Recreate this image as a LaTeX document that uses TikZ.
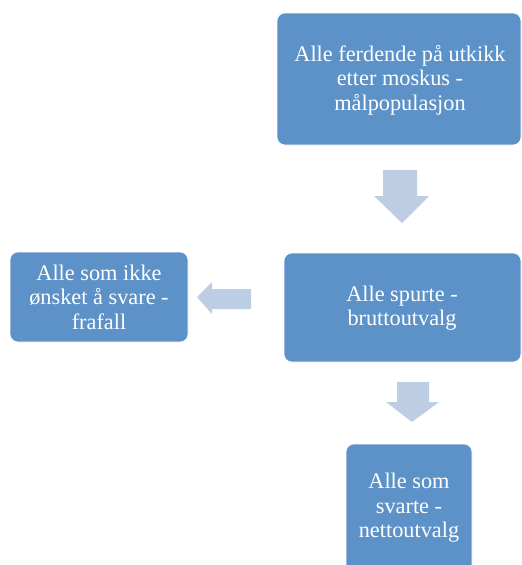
\documentclass[tikz,border=0pt]{standalone}
\usepackage{fontspec}
\setmainfont{Liberation Serif}
\definecolor{boxblue}{RGB}{92,146,200}
\definecolor{arrowblue}{RGB}{188,205,228}
\begin{document}
\begin{tikzpicture}[x=1pt,y=-1pt,
  box/.style={fill=boxblue,draw=white,line width=0.6pt,rounded corners=8pt},
  boxtext/.style={text=white,align=center,font=\fontsize{22.3}{24.5}\selectfont},
  blockarrow/.style={fill=arrowblue}]
\useasboundingbox (0,0) rectangle (522,565);
\begin{scope}
\clip (0,0) rectangle (522,565);
% boxes
\draw[box] (277,13) rectangle (521,145);
\node[boxtext] (b1) at (400,80) {Alle ferdende på utkikk\\etter moskus -\\målpopulasjon};
\draw[box] (284,253) rectangle (521,362);
\node[boxtext] (b2) at (402,308) {Alle spurte -\\bruttoutvalg};
\draw[box] (10,252) rectangle (188,342);
\node[boxtext] (b3) at (99,297) {Alle som ikke\\ønsket å svare -\\frafall};
\draw[box] (346,444) rectangle (472,572);
\node[boxtext] (b4) at (409,508) {Alle som\\svarte -\\nettoutvalg};
% block arrows
\fill[blockarrow] (383,170) -- (417,170) -- (417,196) -- (429,196) -- (402,223) -- (374,196) -- (383,196) -- cycle;
\fill[blockarrow] (251,289) -- (251,309) -- (212,309) -- (212,314) -- (197,297) -- (212,282) -- (212,289) -- cycle;
\fill[blockarrow] (397,382) -- (429,382) -- (429,402) -- (439,402) -- (412,422) -- (386,402) -- (397,402) -- cycle;
\end{scope}
\end{tikzpicture}
\end{document}
